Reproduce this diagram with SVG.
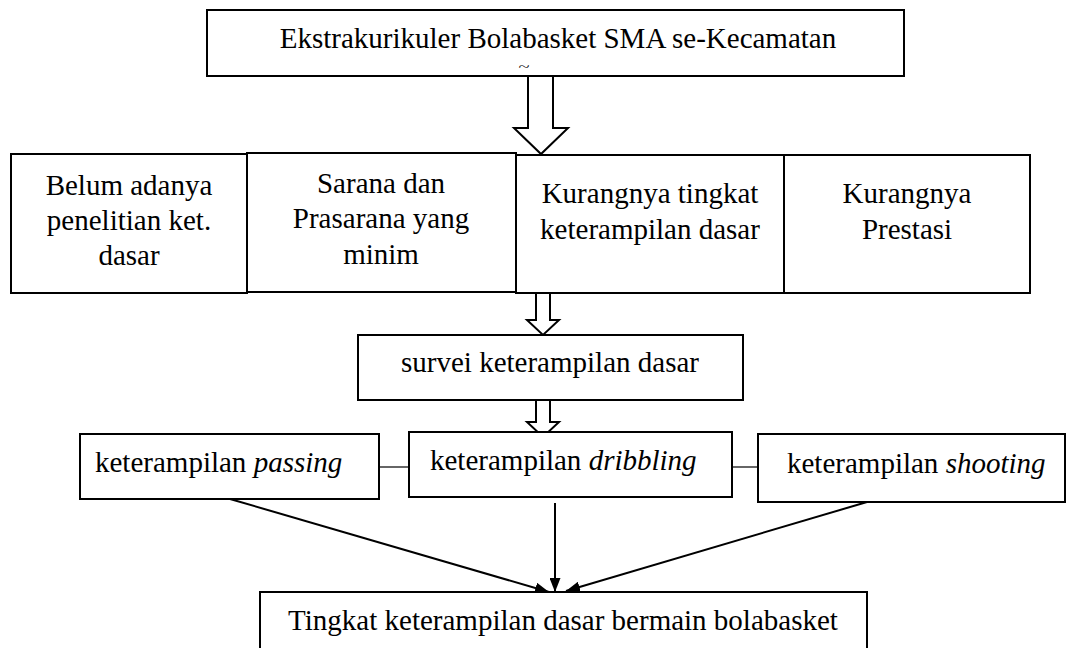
<svg xmlns="http://www.w3.org/2000/svg" width="1090" height="648" viewBox="0 0 1090 648">
<style>
.box{fill:#fff;stroke:#000;stroke-width:2}
.t{font-family:'Liberation Serif',Tinos,'Times New Roman',Times,'DejaVu Serif','Noto Serif',serif;font-size:29px;fill:#000}
.c{text-anchor:middle}
.tl{font-size:12px}
.ha{fill:#fff;stroke:#000;stroke-width:2;stroke-linejoin:miter}
.ln{stroke:#000;stroke-width:2;fill:none}
.thin{stroke:#000;stroke-width:1.2;fill:none}
</style>
<defs>
<marker id="ah" viewBox="0 0 14 11" refX="14" refY="5.5" markerWidth="7" markerHeight="5.5" orient="auto" markerUnits="strokeWidth">
<path d="M0,0 L14,5.5 L0,11 z" fill="#000"/>
</marker>
</defs>
<rect width="1090" height="648" fill="#fff"/>
<g id="connectors">
<polygon class="ha" points="528,76 553,76 553,128 568,128 541,154 514,128 528,128"/>
<polygon class="ha" points="536,293 550,293 550,320 559,320 543,335 527,320 536,320"/>
<polygon class="ha" points="536,400 550,400 550,422 559,422 543,437 527,422 536,422"/>
<line class="thin" x1="379" y1="467" x2="409" y2="467"/>
<line class="thin" x1="732" y1="467" x2="758" y2="467"/>
<line class="ln" x1="230" y1="499" x2="549" y2="592" marker-end="url(#ah)"/>
<line class="ln" x1="555" y1="503" x2="555" y2="592" marker-end="url(#ah)"/>
<line class="ln" x1="867" y1="502" x2="566" y2="591" marker-end="url(#ah)"/>
</g>
<g id="n-top">
<rect class="box" x="207" y="10" width="697" height="66"/>
<text class="t c" x="558" y="48">Ekstrakurikuler Bolabasket SMA se-Kecamatan</text>
<text class="t c tl" style="font-size:12px" transform="translate(524 71) scale(1.7 1)" x="0" y="0">~</text>
</g>
<g id="n-belum">
<rect class="box" x="11" y="154" width="236" height="139"/>
<text class="t c" x="129" y="195">Belum adanya</text>
<text class="t c" x="129" y="230">penelitian ket.</text>
<text class="t c" x="129" y="265">dasar</text>
</g>
<g id="n-sarana">
<rect class="box" x="247" y="153" width="269" height="139"/>
<text class="t c" x="381" y="193">Sarana dan</text>
<text class="t c" x="381" y="228">Prasarana yang</text>
<text class="t c" x="381" y="264">minim</text>
</g>
<g id="n-kurang">
<rect class="box" x="516" y="155" width="268" height="138"/>
<text class="t c" x="650" y="203">Kurangnya tingkat</text>
<text class="t c" x="650" y="239">keterampilan dasar</text>
</g>
<g id="n-prestasi">
<rect class="box" x="784" y="155" width="246" height="138"/>
<text class="t c" x="907" y="203">Kurangnya</text>
<text class="t c" x="907" y="239">Prestasi</text>
</g>
<g id="n-survei">
<rect class="box" x="358" y="335" width="385" height="65"/>
<text class="t c" x="550" y="372">survei keterampilan dasar</text>
</g>
<g id="n-passing">
<rect class="box" x="80" y="434" width="299" height="65"/>
<text class="t" x="95" y="472">keterampilan <tspan font-style="italic">passing</tspan></text>
</g>
<g id="n-dribbling">
<rect class="box" x="409" y="432" width="323" height="65"/>
<text class="t" x="430" y="470">keterampilan <tspan font-style="italic">dribbling</tspan></text>
</g>
<g id="n-shooting">
<rect class="box" x="758" y="434" width="307" height="68"/>
<text class="t" x="787" y="473">keterampilan <tspan font-style="italic">shooting</tspan></text>
</g>
<g id="n-tingkat">
<rect class="box" x="260" y="592" width="607" height="70"/>
<text class="t c" x="563" y="630">Tingkat keterampilan dasar bermain bolabasket</text>
</g>
</svg>
